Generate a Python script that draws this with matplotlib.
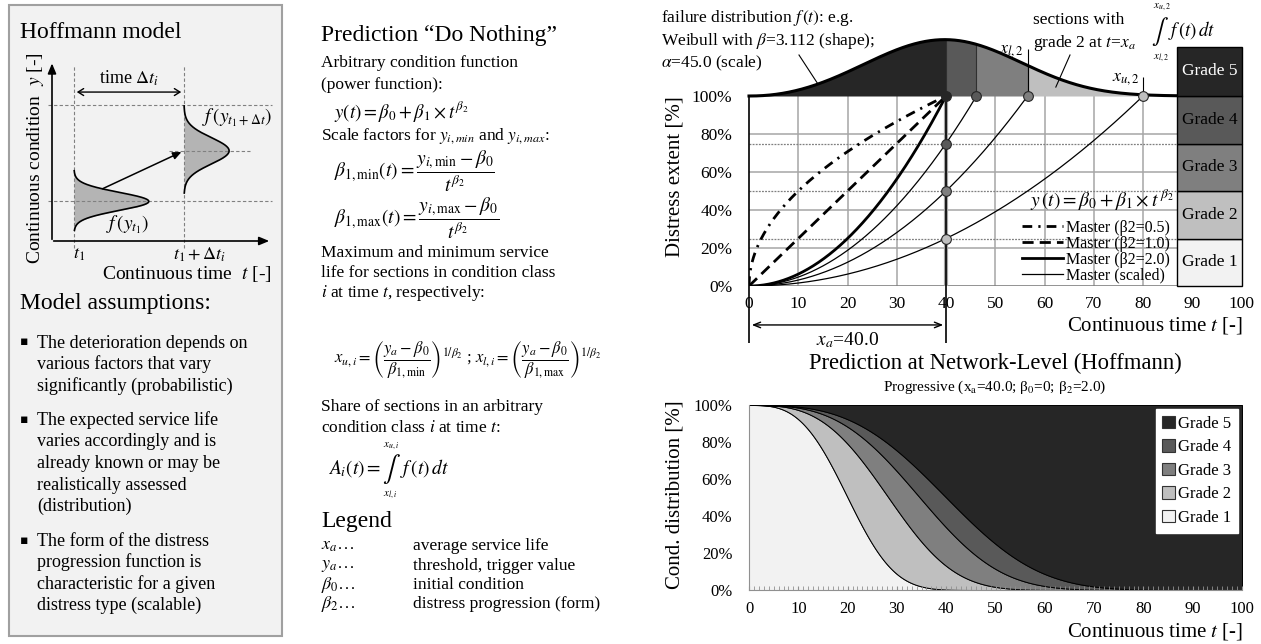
import numpy as np
import matplotlib
matplotlib.use("Agg")
import matplotlib.pyplot as plt
from matplotlib.patches import Rectangle, Patch
from matplotlib.lines import Line2D
from matplotlib.ticker import MultipleLocator

plt.rcParams["font.family"] = ["Liberation Serif", "DejaVu Serif"]
plt.rcParams["mathtext.fontset"] = "stix"

# ---------------- model parameters / values ----------------
x_a = 40.0                       # average service life
beta_0 = 0.0                     # initial condition
beta_2 = 2.0                     # distress progression exponent
weibull_shape = 3.112
weibull_scale = 45.0
master_exponents = [0.5, 1.0, 2.0]
master_labels = ["Master (β2=0.5)", "Master (β2=1.0)", "Master (β2=2.0)", "Master (scaled)"]
scaled_levels = [0.75, 0.50, 0.25]
grade_limits = [0.25, 0.50, 0.75, 1.00]          # upper bounds of grades 1..4
grade_names = ["Grade 1", "Grade 2", "Grade 3", "Grade 4", "Grade 5"]
grade_colors = ["#f2f2f2", "#bfbfbf", "#7f7f7f", "#595959", "#262626"]
time_ticks = list(range(0, 101, 10))
pct_ticks = [0.0, 0.2, 0.4, 0.6, 0.8, 1.0]
pct_labels = ["0%", "20%", "40%", "60%", "80%", "100%"]


def weibull_pdf(t):
    z = np.asarray(t, float) / weibull_scale
    return weibull_shape / weibull_scale * z ** (weibull_shape - 1) * np.exp(-z ** weibull_shape)


def weibull_sf(t):
    return np.exp(-(np.asarray(t, float) / weibull_scale) ** weibull_shape)


def hit_time(level):
    """time at which a curve scaled to `level` at x_a reaches 100 %"""
    return x_a * ((1.0 - beta_0) / (level - beta_0)) ** (1.0 / beta_2)


W, H = 1261, 644
fig = plt.figure(figsize=(W / 100, H / 100), dpi=100)


def frac_rect(x0, y0, x1, y1):
    return [x0 / W, 1 - y1 / H, (x1 - x0) / W, (y1 - y0) / H]


def T(x, y, s, **kw):
    kw.setdefault("va", "center")
    return fig.text(x / W, 1 - y / H, s, **kw)


# ======================= left panel: Hoffmann model =======================
fig.add_artist(Rectangle((9 / W, 1 - 636 / H), 273 / W, 631 / H, transform=fig.transFigure,
                         facecolor="#f2f2f2", edgecolor="#a0a0a0", lw=1.5, zorder=0))
T(20, 32, "Hoffmann model", fontsize=17)

# schematic diagram (units: 22 px per unit)
axd = fig.add_axes(frac_rect(40, 50, 280, 260))
axd.set_xlim(-12 / 22, 228 / 22)
axd.set_ylim(-19 / 22, 191 / 22)
axd.axis("off")
t1, t2 = 1.0, 6.0
y1, y2, y_top = 1.8, 4.1, 6.2
dash_kw = dict(color="#808080", lw=0.8, ls=(0, (3, 2)))
axd.plot([t1, t1], [-0.3, 8.0], **dash_kw)
axd.plot([t2, t2], [-0.3, 8.0], **dash_kw)
axd.plot([-0.2, 10.0], [y_top, y_top], **dash_kw)
axd.plot([-0.2, 10.0], [y1, y1], **dash_kw)
axd.plot([5.3, 9.0], [y2, y2], **dash_kw)
axd.annotate("", xy=(0, 8.2), xytext=(0, -0.05),
             arrowprops=dict(arrowstyle="-|>,head_length=0.6,head_width=0.25", color="black", lw=1.2))
axd.annotate("", xy=(10.0, 0), xytext=(-0.05, 0),
             arrowprops=dict(arrowstyle="-|>,head_length=0.6,head_width=0.25", color="black", lw=1.2))
axd.annotate("", xy=(t1, 6.77), xytext=(t2, 6.77),
             arrowprops=dict(arrowstyle="<->,head_length=0.4,head_width=0.25", color="black", lw=1.0))
axd.text((t1 + t2) / 2, 7.4, r"time $\Delta t_i$", ha="center", va="center", fontsize=13)

for base, mu, sig, amp in [(t1, y1, 0.41, 3.4), (t2, y2, 0.60, 2.05)]:
    yy = np.linspace(mu - 3.2 * sig, mu + 3.4 * sig, 200)
    xx = base + amp * np.exp(-0.5 * ((yy - mu) / sig) ** 2)
    axd.fill_betweenx(yy, base, xx, color="#b4b4b4", lw=0)
    axd.plot(xx, yy, color="black", lw=1.2)
axd.annotate("", xy=(t2, y2), xytext=(2.18, 2.32),
             arrowprops=dict(arrowstyle="-|>,head_length=0.5,head_width=0.22", color="black", lw=1.1))
axd.text(3.45, 0.75, r"$f\,(y_{t_1})$", ha="center", va="center", fontsize=14)
axd.text(8.4, 5.6, r"$f\,(y_{t_1+\Delta t})$", ha="center", va="center", fontsize=14)
axd.text(t1 + 0.25, -0.62, r"$t_1$", ha="center", va="center", fontsize=13)
axd.text(t2 - 0.5, -0.62, r"$t_1+\Delta t_i$", ha="left", va="center", fontsize=13)
T(36, 158, r"Continuous condition  $y$ [-]", rotation=90, ha="center", fontsize=14)
T(271, 274, r"Continuous time  $t$ [-]", ha="right", fontsize=14)

T(20, 304, "Model assumptions:", fontsize=17)
bullets = [
    ["The deterioration depends on", "various factors that vary", "significantly (probabilistic)"],
    ["The expected service life", "varies accordingly and is", "already known or may be",
     "realistically assessed", "(distribution)"],
    ["The form of the distress", "progression function is", "characteristic for a given",
     "distress type (scalable)"],
]
yb = 343
for group in bullets:
    T(20, yb - 1, "▪", fontsize=9, family=["DejaVu Sans"])
    for line in group:
        T(37, yb, line, fontsize=13)
        yb += 21.5
    yb += 13

# ======================= middle column: formulas =======================
MX = 321
FX = 334
T(MX, 35, "Prediction \u201cDo Nothing\u201d", fontsize=17)
T(MX, 63, "Arbitrary condition function", fontsize=12.5)
T(MX, 85, "(power function):", fontsize=12.5)
T(FX, 111, r"$y(t)=\beta_0+\beta_1\times t^{\beta_2}$", fontsize=13.5)
T(MX, 136, r"Scale factors for $y_{i,min}$ and $y_{i,max}$:", fontsize=12.5)
T(FX, 171, r"$\beta_{1,\mathrm{min}}(t)=\dfrac{y_{i,\mathrm{min}}-\beta_0}{t^{\beta_2}}$", fontsize=14)
T(FX, 218, r"$\beta_{1,\mathrm{max}}(t)=\dfrac{y_{i,\mathrm{max}}-\beta_0}{t^{\beta_2}}$", fontsize=14)
T(MX, 253, "Maximum and minimum service", fontsize=12.5)
T(MX, 273, "life for sections in condition class", fontsize=12.5)
T(MX, 293, r"$i$ at time $t$, respectively:", fontsize=12.5)
T(FX, 360, r"$x_{u,i}=\left(\dfrac{y_a-\beta_0}{\beta_{1,\mathrm{min}}}\right)^{1/\beta_2}$ ; "
           r"$x_{l,i}=\left(\dfrac{y_a-\beta_0}{\beta_{1,\mathrm{max}}}\right)^{1/\beta_2}$", fontsize=12)
T(MX, 407, "Share of sections in an arbitrary", fontsize=12.5)
T(MX, 428, r"condition class $i$ at time $t$:", fontsize=12.5)
T(FX - 6, 469, r"$A_i(t)=$", fontsize=14)
T(382, 469, r"$\int$", fontsize=19)
T(383, 446, r"$x_{u,i}$", fontsize=8)
T(383, 495, r"$x_{l,i}$", fontsize=8)
T(400, 469, r"$f\,(t)\,dt$", fontsize=14)
T(MX, 521, "Legend", fontsize=17)
legend_rows = [(r"$x_a\ldots$", "average service life"),
               (r"$y_a\ldots$", "threshold, trigger value"),
               (r"$\beta_0\ldots$", "initial condition"),
               (r"$\beta_2\ldots$", "distress progression (form)")]
for k, (sym, desc) in enumerate(legend_rows):
    T(MX, 546 + 19.5 * k, sym, fontsize=13)
    T(413, 546 + 19.5 * k, desc, fontsize=12.5)

# ======================= top right: condition function =======================
Y0, Y1 = 286, 96
ppu = Y0 - Y1
ymax_top = 1.36
ax1 = fig.add_axes(frac_rect(749, Y0 - ymax_top * ppu, 1241.5, Y0))
ax1.set_xlim(0, 100)
ax1.set_ylim(0, ymax_top)
ax1.patch.set_visible(False)
for s in ax1.spines.values():
    s.set_visible(False)
ax1.set_xticks(time_ticks)
ax1.set_yticks(pct_ticks, pct_labels)
ax1.tick_params(axis="x", length=0, pad=7, labelsize=12.5)
ax1.tick_params(axis="y", length=0, pad=12, labelsize=12.5)

box_x0 = 87.0
ax1.vlines(time_ticks[1:-1], 0, 1, colors="#a6a6a6", lw=1.1, zorder=1)
ax1.hlines(pct_ticks[1:-1], 0, box_x0, colors="#a6a6a6", lw=1.1, zorder=1)
ax1.hlines(grade_limits[:-1], 0, box_x0, colors="#7f7f7f", lw=0.9, linestyles=(0, (1.5, 1)), zorder=1.5)
ax1.hlines(0, 0, 100, colors="#808080", lw=1.2, zorder=1.5)
ax1.vlines(x_a, 0, 1, colors="#a6a6a6", lw=3, zorder=1.6)
ax1.vlines([0, x_a], -0.3, 1.0, colors="black", lw=1.2, zorder=3, clip_on=False)

# master curves
master_styles = [dict(ls=(0, (3.5, 2.2, 0.8, 2.2)), lw=2.0),
                 dict(ls=(0, (4, 2.2)), lw=2.0),
                 dict(ls="-", lw=2.0)]
handles = []
for e, st in zip(master_exponents, master_styles):
    tt = np.linspace(0, x_a, 400)
    ax1.plot(tt, beta_0 + (1 - beta_0) * (tt / x_a) ** e, color="black", zorder=4, **st)
    handles.append(Line2D([], [], color="black", **st))
for lvl in scaled_levels:
    tt = np.linspace(0, hit_time(lvl), 400)
    ax1.plot(tt, beta_0 + (lvl - beta_0) * (tt / x_a) ** beta_2, color="black", lw=0.9, zorder=4)
handles.append(Line2D([], [], color="black", lw=0.9))

# failure distribution drawn on top of the 100 % line
PDF_SCALE = 11.0
edges = [0.0] + [hit_time(l) for l in [1.0] + scaled_levels] + [100.0]
seg_colors = [grade_colors[4], grade_colors[3], grade_colors[2], grade_colors[1], grade_colors[0]]
for a, b, c in zip(edges[:-1], edges[1:], seg_colors):
    ts = np.linspace(a, b, 200)
    ax1.fill_between(ts, 1.0, 1.0 + PDF_SCALE * weibull_pdf(ts), color=c, lw=0, zorder=2)
inner = np.array(edges[1:5])
ax1.vlines(inner, 1.0, 1.0 + PDF_SCALE * weibull_pdf(inner), colors="#303030", lw=0.8, zorder=2.5)
tp = np.linspace(0, 100, 1001)
ax1.plot(tp, 1.0 + PDF_SCALE * weibull_pdf(tp), color="black", lw=2.2, zorder=5, clip_on=False)

# markers at the threshold crossings
for lvl in [1.0] + scaled_levels:
    c = grade_colors[grade_limits.index(lvl) + 1]
    ax1.plot(hit_time(lvl), 1.0, "o", ms=7, mfc=c, mec="#262626", mew=0.8, zorder=7, clip_on=False)
for lvl in scaled_levels:
    c = grade_colors[grade_limits.index(lvl) + 1]
    ax1.plot(x_a, lvl, "o", ms=7, mfc=c, mec="#262626", mew=0.8, zorder=7)

# grade boxes
lows = [0.0] + grade_limits
highs = grade_limits + [1.26]
for k, (lo, hi) in enumerate(zip(lows, highs)):
    ax1.add_patch(Rectangle((box_x0, lo), 100 - box_x0, hi - lo, facecolor=grade_colors[k],
                            edgecolor="black", lw=1.0, zorder=6, clip_on=False))
    ax1.text((box_x0 + 100) / 2, (lo + hi) / 2, grade_names[k], ha="center", va="center",
             fontsize=12.5, color="white" if k == 4 else "black", zorder=8)

# x_l,2 / x_u,2 markers
xl2, xu2 = hit_time(0.5), hit_time(0.25)
ax1.vlines(xl2, 1.0, 1.25, colors="black", lw=0.8, zorder=6)
ax1.text(xl2 - 0.7, 1.24, r"$x_{l,2}$", ha="right", va="center", fontsize=13)
ax1.vlines(xu2, 1.0, 1.10, colors="black", lw=0.8, zorder=6)
ax1.text(xu2 - 0.7, 1.09, r"$x_{u,2}$", ha="right", va="center", fontsize=13)

# legend + formula
ax1.text(57.0, 0.453, r"$y\,(t)=\beta_0+\beta_1\times t^{\,\beta_2}$", ha="left", va="center", fontsize=14)
ax1.legend(handles, master_labels, loc="upper left", bbox_to_anchor=(55.4, 0.35),
           bbox_transform=ax1.transData, frameon=False, fontsize=11.5, handlelength=2.6,
           handletextpad=0.15, labelspacing=0.0, borderpad=0, borderaxespad=0)

# x_a span
ax1.annotate("", xy=(0, -0.205), xytext=(x_a, -0.205), annotation_clip=False,
             arrowprops=dict(arrowstyle="<->,head_length=0.5,head_width=0.2", color="black", lw=1.0))
ax1.text(x_a / 2, -0.285, r"$x_a$=40.0", ha="center", va="center", fontsize=14)

# annotations above the chart
T(661, 18, r"failure distribution $f\,(t)$: e.g.", fontsize=12.5)
T(661, 41, r"Weibull with $\beta$=3.112 (shape);", fontsize=12.5)
T(661, 63, r"$\alpha$=45.0 (scale)", fontsize=12.5)
ax1.plot([(799 - 749) / 4.925, 14.0], [(Y0 - 55) / ppu, 1.0 + PDF_SCALE * weibull_pdf(14.0)],
         color="black", lw=0.8, clip_on=False, zorder=6)
T(1033, 20, "sections with", fontsize=12.5)
T(1033, 43, r"grade 2 at $t$=$x_a$", fontsize=12.5)
ax1.plot([(1070 - 749) / 4.925, 62.3], [(Y0 - 55) / ppu, 1.047], color="black", lw=0.8,
         clip_on=False, zorder=6)
T(1151, 32, r"$\int$", fontsize=18)
T(1153, 7, r"$x_{u,2}$", fontsize=8)
T(1153, 58, r"$x_{l,2}$", fontsize=8)
T(1168, 31, r"$f\,(t)\,dt$", fontsize=13.5)

T(675, 177, "Distress extent [%]", rotation=90, ha="center", fontsize=15)
T(1243, 325, r"Continuous time $t$ [-]", ha="right", fontsize=15)

# ======================= bottom right: network level =======================
ax2 = fig.add_axes(frac_rect(749, 405, 1242, 590))
t_net = np.linspace(0, 100, 501)
cum = [weibull_sf(t_net * (lvl / 1.0) ** (-1.0 / beta_2)) for lvl in grade_limits]
shares = [cum[0], cum[1] - cum[0], cum[2] - cum[1], cum[3] - cum[2], 1.0 - cum[3]]
ax2.stackplot(t_net, shares, colors=grade_colors, edgecolor="black", lw=0.7)
ax2.set_xlim(0, 100)
ax2.set_ylim(0, 1)
ax2.set_xticks(time_ticks)
ax2.xaxis.set_minor_locator(MultipleLocator(1))
ax2.set_yticks(pct_ticks, pct_labels)
ax2.tick_params(axis="x", which="both", direction="in", length=3, color="#909090", pad=8, labelsize=12)
ax2.tick_params(axis="y", length=0, pad=12, labelsize=12)
for side in ["top", "right"]:
    ax2.spines[side].set_visible(False)
for side in ["left", "bottom"]:
    ax2.spines[side].set_color("#909090")
leg_handles = [Patch(facecolor=grade_colors[k], edgecolor="#333333", lw=0.8) for k in range(4, -1, -1)]
ax2.legend(leg_handles, grade_names[::-1], loc="upper right", bbox_to_anchor=(1, 1), borderaxespad=0.25,
           frameon=True, fancybox=False, facecolor="white", edgecolor="white", framealpha=1,
           fontsize=12, handlelength=0.75, handleheight=0.75, handletextpad=0.2,
           labelspacing=0.45, borderpad=0.4)

T(995, 363, "Prediction at Network-Level (Hoffmann)", ha="center", fontsize=16.3)
T(995, 387, r"Progressive (x$_\mathrm{a}$=40.0; β$_0$=0; β$_2$=2.0)", ha="center", fontsize=11)
T(675, 495, "Cond. distribution [%]", rotation=90, ha="center", fontsize=15)
T(1243, 632, r"Continuous time $t$ [-]", ha="right", fontsize=15)

fig.savefig("out.png", dpi=100)
